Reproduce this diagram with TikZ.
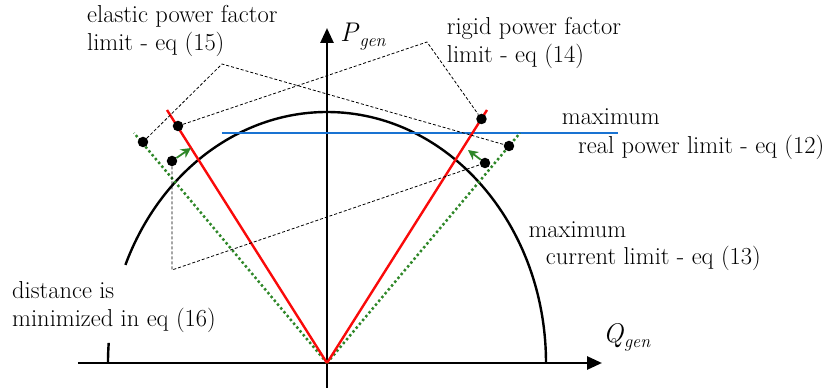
\documentclass[tikz,border=0pt]{standalone}
\usetikzlibrary{arrows.meta}
\definecolor{rdline}{RGB}{250,10,10}
\definecolor{grline}{RGB}{46,135,40}
\definecolor{blline}{RGB}{25,115,210}
\begin{document}
\begin{tikzpicture}[x=1pt,y=1pt,
  lab/.style={anchor=base west,inner sep=0pt,font=\fontsize{24.5}{28}\selectfont},
  mlab/.style={anchor=base west,inner sep=0pt,font=\fontsize{27}{30}\selectfont},
  axis/.style={line width=2.7pt,-{Triangle[length=15pt,width=13pt]}},
  curve/.style={line width=2.4pt},
  rigid/.style={line width=2.4pt,rdline},
  elastic/.style={line width=2.5pt,grline,dash pattern=on 2.4pt off 2.6pt},
  pmax/.style={line width=2.4pt,blline},
  leader/.style={line width=0.8pt,dash pattern=on 3pt off 2pt},
  dot/.style={circle,fill=black,inner sep=0pt,minimum size=10.5pt},
  move/.style={line width=1.8pt,grline,-{Stealth[length=10pt,width=10pt]}}]
\useasboundingbox (-327,-25) rectangle (501,363);
% axes
\coordinate (O) at (0,0);
\coordinate (xl) at (-249,0);
\coordinate (xr) at (275,0);
\coordinate (yb) at (0,-25);
\coordinate (yt) at (0,335);
\draw[axis] (xl) -- (xr);
\draw[axis] (yb) -- (yt);
% current limit (ellipse arc, partly hidden by the label)
\draw[curve] (219,0) arc[start angle=0,end angle=157,x radius=219,y radius=251];
\draw[curve] ({219*cos(175.4)},{251*sin(175.4)}) arc[start angle=175.4,end angle=180,x radius=219,y radius=251];
% limits
\coordinate (rL) at (-160,253);
\coordinate (rR) at (160,253);
\coordinate (gL) at (-193,230);
\coordinate (gR) at (193,230);
\coordinate (bL) at (-105,230);
\coordinate (bR) at (291,230);
\draw[pmax] (bL) -- (bR);
\draw[elastic] (O) -- (gL);
\draw[elastic] (O) -- (gR);
\draw[rigid] (O) -- (rL);
\draw[rigid] (O) -- (rR);
% points
\node[dot] (A) at (-184,221) {};
\node[dot] (B) at (-149,237) {};
\node[dot] (C) at (-155,202) {};
\node[dot] (D) at (154.5,244) {};
\node[dot] (E) at (182,217) {};
\node[dot] (F) at (158,200) {};
\coordinate (Ct) at (-136,215);
\coordinate (Ft) at (141,213);
\draw[move] (C) -- (Ct);
\draw[move] (F) -- (Ft);
% leaders
\coordinate (pe) at (-105,299);
\coordinate (pr) at (100,321);
\coordinate (pd) at (-155,93);
\draw[leader] (A) -- (pe) -- (E);
\draw[leader] (B) -- (pr) -- (D);
\draw[leader] (C) -- (pd) -- (F);
% labels
\node[lab] (el1) at (-240,340.3) {elastic power factor};
\node[lab] (el2) at (-240,312.3) {limit - eq (15)};
\node[lab] (rg1) at (119.7,328) {rigid power factor};
\node[lab] (rg2) at (119.7,300) {limit - eq (14)};
\node[lab] (mp1) at (234.7,238) {maximum};
\node[lab] (mp2) at (251,209.7) {real power limit - eq (12)};
\node[lab] (mc1) at (201.3,125.7) {maximum};
\node[lab] (mc2) at (218.7,98) {current limit - eq (13)};
\node[lab] (ds1) at (-315,64.7) {distance is};
\node[lab] (ds2) at (-315,36.3) {minimized in eq (16)};
\node[mlab] (Q) at (276,20) {\textit{Q}\raisebox{-5pt}{\fontsize{18}{20}\selectfont\textit{gen}}};
\node[mlab] (P) at (13,321.3) {\textit{P}\raisebox{-5pt}{\fontsize{18}{20}\selectfont\textit{gen}}};
\end{tikzpicture}
\end{document}
